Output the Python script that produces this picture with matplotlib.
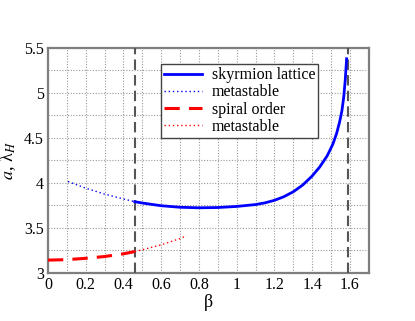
import matplotlib
matplotlib.use("Agg")
import matplotlib.pyplot as plt
from matplotlib import font_manager
import numpy as np

_avail = set(f.name for f in font_manager.fontManager.ttflist)
_serif = [n for n in ['Liberation Serif', 'Tinos', 'Times New Roman', 'Nimbus Roman', 'STIXGeneral', 'DejaVu Serif'] if n in _avail]
plt.rcParams['font.family'] = _serif + ['DejaVu Sans']
plt.rcParams['mathtext.fontset'] = 'stix'

# skyrmion lattice (stable)
sk_x = [0.46, 0.5, 0.6, 0.7, 0.8, 0.9, 1.0, 1.1, 1.15, 1.2, 1.25, 1.3, 1.35, 1.4, 1.44, 1.48, 1.51, 1.53, 1.545, 1.558, 1.568, 1.576, 1.583]
sk_y = [3.79, 3.775, 3.745, 3.728, 3.722, 3.725, 3.737, 3.758, 3.777, 3.805, 3.845, 3.9, 3.975, 4.075, 4.175, 4.3, 4.43, 4.55, 4.67, 4.8, 4.96, 5.15, 5.38]
# skyrmion lattice (metastable)
skm_x = [0.106, 0.2, 0.3, 0.4, 0.46]
skm_y = [4.015, 3.94, 3.875, 3.82, 3.79]
# spiral order (stable)
sp_x = [0.0, 0.1, 0.2, 0.3, 0.4, 0.46]
sp_y = [3.14, 3.145, 3.16, 3.18, 3.21, 3.235]
# spiral order (metastable)
spm_x = [0.46, 0.5, 0.6, 0.7, 0.735]
spm_y = [3.235, 3.255, 3.31, 3.38, 3.41]
# transition lines
vlines_x = [0.46, 1.592]

xticks = [0, 0.2, 0.4, 0.6, 0.8, 1.0, 1.2, 1.4, 1.6]
xticklabels = ['0', '0.2', '0.4', '0.6', '0.8', '1', '1.2', '1.4', '1.6']
yticks = [3, 3.5, 4, 4.5, 5, 5.5]
yticklabels = ['3', '3.5', '4', '4.5', '5', '5.5']

fig = plt.figure(figsize=(4.15, 3.21), dpi=100)
ax = fig.add_axes([0.1157, 0.1505, 0.7727, 0.70])

ax.set_xlim(0, 1.7)
ax.set_ylim(3, 5.5)
ax.set_xticks(xticks)
ax.set_xticklabels(xticklabels)
ax.set_yticks(yticks)
ax.set_yticklabels(yticklabels)
ax.set_xticks(np.arange(0.1, 1.7, 0.2), minor=True)
ax.set_yticks([3.25, 3.75, 4.25, 4.75, 5.25], minor=True)
ax.grid(True, which='both', color='#999999', linestyle=(0, (1, 1.5)), linewidth=0.8)
ax.set_axisbelow(True)
ax.tick_params(which='both', length=0, labelsize=11.5, pad=3)

for s in ax.spines.values():
    s.set_color('#7f7f7f')
    s.set_linewidth(1.6)

for vx in vlines_x:
    ax.axvline(vx, color='#555555', linestyle=(0, (5, 2.5)), linewidth=1.5, zorder=3)

ax.plot(sk_x, sk_y, color='#0000ff', linewidth=2.0, label='skyrmion lattice', zorder=4)
ax.plot(skm_x, skm_y, color='#0000ff', linewidth=1.0, linestyle=(0, (1, 2)), label='metastable', zorder=4)
ax.plot(sp_x, sp_y, color='#ff0000', linewidth=2.2, linestyle=(0, (5, 3)), label='spiral order', zorder=4)
ax.plot(spm_x, spm_y, color='#ff0000', linewidth=1.0, linestyle=(0, (1, 2)), label='metastable', zorder=4)

leg = ax.legend(loc='upper left', bbox_to_anchor=(0.351, 0.929), fontsize=11.5,
                frameon=True, fancybox=False, edgecolor='#444444', framealpha=1,
                borderpad=0.2, labelspacing=0.08, handlelength=2.4, handletextpad=0.6,
                borderaxespad=0)
leg.get_frame().set_linewidth(1.0)

ax.set_xlabel('β', fontsize=13, labelpad=1)
ax.set_ylabel(r'$a$, λ$_H$', fontsize=13, labelpad=4)

fig.savefig('out.png', dpi=100)
